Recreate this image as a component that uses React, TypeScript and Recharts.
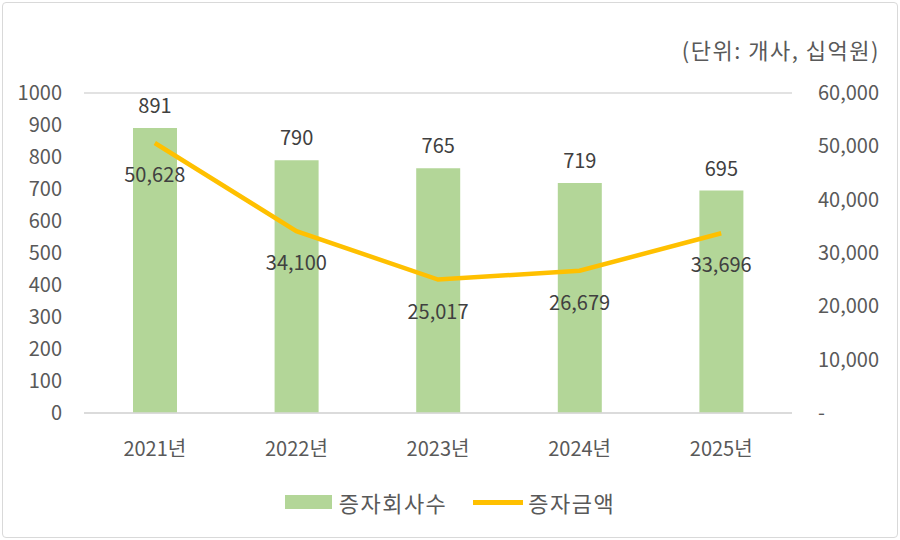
import React from "react";
import {
  ComposedChart,
  Bar,
  Line,
  XAxis,
  YAxis,
  CartesianGrid,
  Legend,
  LabelList,
} from "recharts";

// 연도별 증자 현황
const years = ["2021년", "2022년", "2023년", "2024년", "2025년"];
const companyCounts = [891, 790, 765, 719, 695];
const capitalAmounts = [50628, 34100, 25017, 26679, 33696];

const leftTicks = [0, 100, 200, 300, 400, 500, 600, 700, 800, 900, 1000];
const rightTicks = [0, 10000, 20000, 30000, 40000, 50000, 60000];

const BAR_COLOR = "#B3D698";
const LINE_COLOR = "#FFC000";
const TEXT_COLOR = "#595959";
const FONT = "'Noto Sans CJK KR', 'Noto Sans', sans-serif";

const chartData = years.map((year, i) => ({
  year,
  count: companyCounts[i],
  amount: capitalAmounts[i],
}));

const fmt = (v: number) => v.toLocaleString("en-US");

const LegendBox = () => (
  <div
    style={{
      display: "flex",
      justifyContent: "center",
      alignItems: "center",
      fontFamily: FONT,
      fontSize: 22,
      letterSpacing: 1.5,
      color: TEXT_COLOR,
      height: 30,
    }}
  >
    <span style={{ display: "inline-block", width: 47, height: 14, background: BAR_COLOR, marginRight: 7 }} />
    <span style={{ marginRight: 26 }}>증자회사수</span>
    <span style={{ display: "inline-block", width: 50, height: 5, background: LINE_COLOR, marginRight: 5 }} />
    <span>증자금액</span>
  </div>
);

const App: React.FC = () => {
  return (
    <div
      style={{
        position: "absolute",
        left: 0,
        top: 0,
        width: 900,
        height: 540,
        background: "#fff",
        fontFamily: FONT,
      }}
    >
      <div
        style={{
          position: "absolute",
          left: 2,
          top: 2,
          width: 894,
          height: 534,
          border: "1px solid #d9d9d9",
          borderRadius: 4,
        }}
      />
      <div
        style={{
          position: "absolute",
          right: 20,
          top: 33,
          fontSize: 22,
          letterSpacing: 1.5,
          color: TEXT_COLOR,
        }}
      >
        (단위: 개사, 십억원)
      </div>
      <ComposedChart
        width={900}
        height={540}
        data={chartData}
        margin={{ top: 93, right: 0, bottom: 0, left: 0 }}
        style={{ position: "absolute", left: 0, top: 0 }}
      >
        <CartesianGrid vertical={false} stroke="#d9d9d9" strokeWidth={1.5} />
        <XAxis
          dataKey="year"
          axisLine={{ stroke: "#d9d9d9", strokeWidth: 1.5 }}
          tickLine={false}
          tickSize={0}
          tickMargin={29}
          height={97}
          tick={{ fill: TEXT_COLOR, fontSize: 20, fontFamily: FONT }}
        />
        <YAxis
          yAxisId="left"
          domain={[0, 1000]}
          ticks={leftTicks}
          axisLine={false}
          tickLine={false}
          tickSize={0}
          tickMargin={22}
          width={84}
          tick={{ fill: TEXT_COLOR, fontSize: 20, fontFamily: FONT }}
        />
        <YAxis
          yAxisId="right"
          orientation="right"
          domain={[0, 60000]}
          ticks={rightTicks}
          axisLine={false}
          tickLine={false}
          tickSize={0}
          tickMargin={26}
          width={108}
          tickFormatter={(v: number) => (v === 0 ? "-" : fmt(v))}
          tick={{ fill: TEXT_COLOR, fontSize: 20, fontFamily: FONT, textAnchor: "start" }}
        />
        <Bar
          yAxisId="left"
          dataKey="count"
          name="증자회사수"
          fill={BAR_COLOR}
          barSize={44}
          isAnimationActive={false}
        >
          <LabelList
            dataKey="count"
            position="top"
            offset={15}
            fill="#404040"
            fontSize={20}
            fontFamily={FONT}
          />
        </Bar>
        <Line
          yAxisId="right"
          dataKey="amount"
          name="증자금액"
          stroke={LINE_COLOR}
          strokeWidth={4.5}
          dot={false}
          activeDot={false}
          isAnimationActive={false}
        >
          <LabelList
            dataKey="amount"
            position="bottom"
            offset={25}
            formatter={(v: number) => fmt(v)}
            fill="#404040"
            fontSize={20}
            fontFamily={FONT}
          />
        </Line>
        <Legend
          content={<LegendBox />}
          wrapperStyle={{ position: "absolute", top: 487, left: 0, width: 900 }}
        />
      </ComposedChart>
    </div>
  );
};

export default App;
